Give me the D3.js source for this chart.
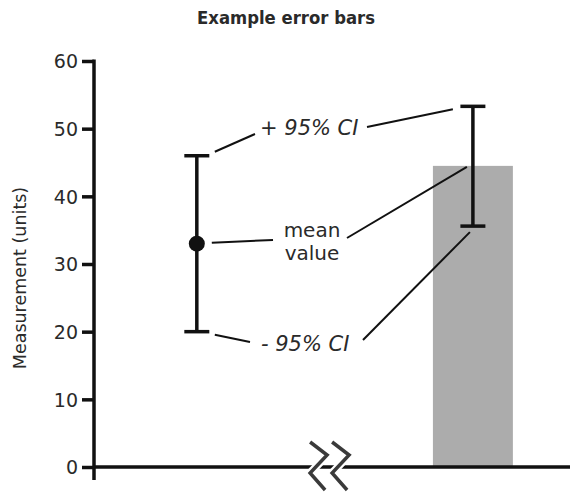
<!DOCTYPE html>
<html>
<head>
<meta charset="utf-8">
<script src="https://cdn.jsdelivr.net/npm/d3@7"></script>
<style>
  body { margin: 0; background: #fff; }
  text { font-family: "DejaVu Sans", Verdana, sans-serif; fill: #2a2a2a; }
</style>
</head>
<body>
<svg id="chart" width="570" height="492"></svg>
<script>
// data
const groups = ['mean point', 'bar']
const groupPos = [0.216, 0.796]      // position along the (broken) x axis
const means = [33, 44.5]
const upperCI = [46, 53.3]
const lowerCI = [20, 35.6]
const yTicks = [0, 10, 20, 30, 40, 50, 60]
const breakPos = 0.496
const barWidth = 0.168

const margin = { left: 94, right: 0, top: 61, bottom: 25 }
const width = 570, height = 492

let svg = d3.select('#chart')

let xScale = d3.scaleLinear()
    .domain([0, 1])
    .range([margin.left, width - margin.right])

let yScale = d3.scaleLinear()
    .domain([0, 60])
    .range([height - margin.bottom, margin.top])

// title
svg.append('text')
    .attr('x', 286)
    .attr('y', 24)
    .attr('text-anchor', 'middle')
    .attr('textLength', 178)
    .attr('lengthAdjust', 'spacingAndGlyphs')
    .style('font-size', '17.5px')
    .style('font-weight', 'bold')
    .text('Example error bars')

// y axis label
svg.append('text')
    .attr('transform', `translate(26, ${yScale(30) + 14}) rotate(-90)`)
    .attr('text-anchor', 'middle')
    .style('font-size', '17.5px')
    .text('Measurement (units)')

// bar
svg.append('rect')
    .attr('x', xScale(groupPos[1] - barWidth / 2))
    .attr('y', yScale(means[1]))
    .attr('width', xScale(barWidth) - xScale(0))
    .attr('height', yScale(0) - yScale(means[1]))
    .attr('fill', '#acacac')

// y axis
let yAxisGen = d3.axisLeft(yScale)
    .tickValues(yTicks)
    .tickSize(12)
    .tickPadding(4)

let yAxis = svg.append('g')
    .attr('transform', `translate(${margin.left}, 0)`)
    .call(yAxisGen)

yAxis.select('.domain').remove()
yAxis.selectAll('.tick line')
    .attr('stroke', '#111')
    .attr('stroke-width', 3.5)
yAxis.selectAll('.tick text')
    .style('font-size', '19px')
    .attr('dy', '0.36em')

svg.append('line')
    .attr('x1', margin.left).attr('x2', margin.left)
    .attr('y1', yScale(60) - 1.5)
    .attr('y2', yScale(0) + 13)
    .attr('stroke', '#111')
    .attr('stroke-width', 3.5)

// x axis
svg.append('line')
    .attr('x1', margin.left)
    .attr('x2', width)
    .attr('y1', yScale(0))
    .attr('y2', yScale(0))
    .attr('stroke', '#111')
    .attr('stroke-width', 3.5)

// axis break
let bx = xScale(breakPos), by = yScale(0)
let zig = [[-20, -25], [-3, -12], [-20, 6], [-5, 23]]
;[0, 22].forEach(off => {
    let pts = zig.map(p => [bx + p[0] + off, by + p[1]])
    svg.append('path')
        .attr('d', d3.line()(pts))
        .attr('fill', 'none')
        .attr('stroke', '#fff')
        .attr('stroke-width', 8)
    svg.append('path')
        .attr('d', d3.line()(pts))
        .attr('fill', 'none')
        .attr('stroke', '#3a3a3a')
        .attr('stroke-width', 3.5)
})

// error bars
const capHalf = 12.5
groups.forEach((g, i) => {
    let cx = xScale(groupPos[i])
    svg.append('line')
        .attr('x1', cx).attr('x2', cx)
        .attr('y1', yScale(upperCI[i]))
        .attr('y2', yScale(lowerCI[i]))
        .attr('stroke', '#111')
        .attr('stroke-width', 3.5)
    ;[upperCI[i], lowerCI[i]].forEach(v => {
        svg.append('line')
            .attr('x1', cx - capHalf).attr('x2', cx + capHalf)
            .attr('y1', yScale(v)).attr('y2', yScale(v))
            .attr('stroke', '#111')
            .attr('stroke-width', 3.5)
    })
})

svg.append('circle')
    .attr('cx', xScale(groupPos[0]))
    .attr('cy', yScale(means[0]))
    .attr('r', 8)
    .attr('fill', '#111')

// annotations
let p0 = xScale(groupPos[0]), p1 = xScale(groupPos[1])
let leaders = [
    // + 95% CI
    [[p0 + 18, yScale(upperCI[0]) - 4], [255, 134]],
    [[367, 127], [p1 - 20, yScale(upperCI[1]) + 3]],
    // mean value
    [[p0 + 15, yScale(means[0]) - 1], [273, 240]],
    [[347, 238], [p1 - 6, yScale(means[1]) + 1]],
    // - 95% CI
    [[p0 + 18, yScale(lowerCI[0]) + 3], [250, 342]],
    [[363, 340], [p1 - 3, yScale(lowerCI[1]) + 6]]
]
leaders.forEach(l => {
    svg.append('path')
        .attr('d', d3.line()(l))
        .attr('stroke', '#111')
        .attr('stroke-width', 2)
})

svg.append('text')
    .attr('x', 260).attr('y', 135)
    .style('font-size', '21px')
    .style('font-style', 'italic')
    .text('+ 95% CI')

svg.append('text')
    .attr('x', 261).attr('y', 351)
    .style('font-size', '21px')
    .style('font-style', 'italic')
    .text('- 95% CI')

svg.append('text')
    .attr('x', 312).attr('y', 237)
    .attr('text-anchor', 'middle')
    .style('font-size', '20px')
    .text('mean')

svg.append('text')
    .attr('x', 312).attr('y', 260)
    .attr('text-anchor', 'middle')
    .style('font-size', '20px')
    .text('value')
</script>
</body>
</html>
